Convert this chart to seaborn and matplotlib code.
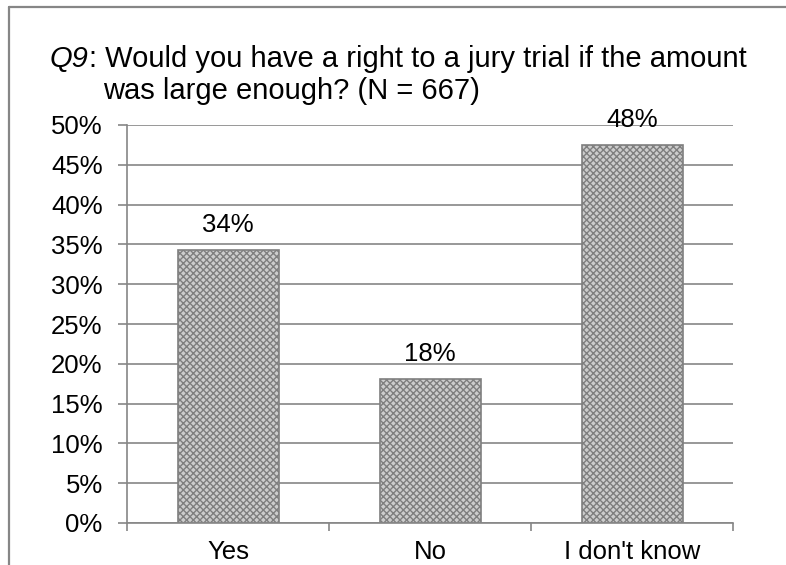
import matplotlib
matplotlib.use("Agg")
import matplotlib.pyplot as plt
import seaborn as sns
from matplotlib.lines import Line2D
from matplotlib.ticker import FixedLocator, PercentFormatter

categories = ["Yes", "No", "I don't know"]
values = [34.3, 18.1, 47.5]
labels = ["34%", "18%", "48%"]

sns.set_theme(style="white")
plt.rcParams['font.family'] = ['Liberation Sans', 'DejaVu Sans']
plt.rcParams['text.color'] = 'black'
plt.rcParams['xtick.color'] = 'black'
plt.rcParams['ytick.color'] = 'black'
plt.rcParams['hatch.color'] = '#6e6e6e'
plt.rcParams['hatch.linewidth'] = 1.0

fig = plt.figure(figsize=(7.86, 5.65), dpi=100)
ax = fig.add_axes([127 / 786, 1 - 523 / 565, 606 / 786, 398 / 565])

sns.barplot(x=categories, y=values, color='#cdcdcd', width=0.5, ax=ax,
            edgecolor='#7f7f7f', linewidth=1.2)
for p in ax.patches:
    p.set_hatch('xxxxx')

ax.bar_label(ax.containers[0], labels=labels, padding=9, fontsize=18.5)

grey = '#868686'
ax.set_ylim(0, 50)
ax.set_xlim(-0.5, 2.5)
ax.yaxis.set_major_locator(FixedLocator(range(0, 51, 5)))
ax.yaxis.set_major_formatter(PercentFormatter(decimals=0))
ax.yaxis.grid(True, color=grey, linewidth=1.2)
ax.set_axisbelow(True)
for s in ['top', 'right']:
    ax.spines[s].set_visible(False)
for s in ['left', 'bottom']:
    ax.spines[s].set_color(grey)
    ax.spines[s].set_linewidth(1.2)

ax.tick_params(axis='y', which='major', left=True, length=6.5, width=1.2,
               color=grey, labelsize=18.5, pad=11)
ax.tick_params(axis='x', which='major', bottom=False, length=0,
               labelsize=18.5, pad=12.5)
ax.xaxis.set_minor_locator(FixedLocator([-0.5, 0.5, 1.5, 2.5]))
ax.tick_params(axis='x', which='minor', bottom=True, length=6, width=1.2,
               color=grey)
ax.set_xlabel('')
ax.set_ylabel('')

# title, with the question number in italics
t1 = fig.text(50 / 786, 1 - 67 / 565, "Q9", fontsize=21, style='italic',
              ha='left', va='baseline')
ax.annotate(": Would you have a right to a jury trial if the amount",
            xy=(1, 0), xycoords=t1, fontsize=21, ha='left', va='bottom',
            annotation_clip=False)
fig.text(103 / 786, 1 - 99 / 565, "was large enough? (N = 667)",
         fontsize=21, ha='left', va='baseline')

# outer chart border
fig.add_artist(Line2D([9 / 786, 9 / 786], [0, 1 - 7 / 565],
                      transform=fig.transFigure, color=grey, linewidth=1.6))
fig.add_artist(Line2D([9 / 786, 1], [1 - 7 / 565, 1 - 7 / 565],
                      transform=fig.transFigure, color=grey, linewidth=1.6))

fig.savefig("out.png", dpi=100)
